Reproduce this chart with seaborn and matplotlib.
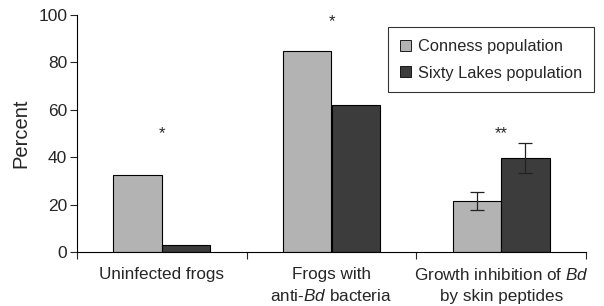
import matplotlib
matplotlib.use("Agg")
import matplotlib.pyplot as plt
import seaborn as sns
import pandas as pd
import numpy as np
from matplotlib.patches import Patch

categories = ["Uninfected frogs", "Frogs with\nanti-$\\it{Bd}$ bacteria",
              "Growth inhibition of $\\it{Bd}$\nby skin peptides"]
populations = ["Conness population", "Sixty Lakes population"]
conness = [32.6, 85.0, 21.6]
sixty = [3.1, 62.0, 39.7]
conness_err = [0, 0, 3.8]
sixty_err = [0, 0, 6.5]
stars = ["*", "*", "**"]
star_y = [50, 97, 50]

sns.set_theme(style="ticks")
plt.rcParams["font.family"] = ["Liberation Sans", "DejaVu Sans"]
plt.rcParams["mathtext.fontset"] = "custom"
plt.rcParams["mathtext.rm"] = "Liberation Sans"
plt.rcParams["mathtext.it"] = "Liberation Sans:italic"

df = pd.DataFrame({
    "category": categories * 2,
    "population": [populations[0]] * 3 + [populations[1]] * 3,
    "value": conness + sixty,
})

fig = plt.figure(figsize=(6.04, 3.06), dpi=100)
ax = fig.add_axes([77/604, 1-252/306, (586-77)/604, (252-15)/306])
palette = {populations[0]: "#b3b3b3", populations[1]: "#3c3c3c"}
sns.barplot(data=df, x="category", y="value", hue="population", palette=palette,
            width=0.57, edgecolor="black", linewidth=0.8, ax=ax, legend=False,
            saturation=1, errorbar=None)

errs = conness_err + sixty_err
for p, e in zip(ax.patches[:6], errs):
    if e > 0:
        cx = p.get_x() + p.get_width() / 2
        ax.errorbar(cx, p.get_height(), yerr=e, color="#222222", capsize=5,
                    elinewidth=0.9, capthick=0.9, fmt="none")

for i, (s, yy) in enumerate(zip(stars, star_y)):
    ax.text(i, yy, s, ha="center", va="center", fontsize=12)

ax.set_xlim(-0.5, 2.5)
ax.set_ylim(0, 100)
ax.set_yticks(range(0, 101, 20))
ax.set_xticks([-0.5, 0.5, 1.5, 2.5])
ax.set_xticklabels([])
ax.set_xticks([0, 1, 2], minor=True)
ax.set_xticklabels(categories, minor=True, fontsize=12.3, linespacing=1.45)
ax.tick_params(axis="x", which="minor", length=0, pad=11)
ax.tick_params(axis="x", which="major", length=5, width=0.8, direction="out")
ax.tick_params(axis="y", length=5, width=0.8, labelsize=12.5, pad=2, direction="out")
ax.set_xlabel("")
ax.set_ylabel("Percent", fontsize=14.5, labelpad=6)
for sp in ["top", "right"]:
    ax.spines[sp].set_visible(False)
for sp in ["left", "bottom"]:
    ax.spines[sp].set_linewidth(0.8)
    ax.spines[sp].set_color("black")

handles = [Patch(facecolor=palette[p], edgecolor="black", linewidth=0.6, label=p)
           for p in populations]
leg = ax.legend(handles=handles, loc="upper right",
                bbox_to_anchor=(594/604, 1-27/306), bbox_transform=fig.transFigure,
                fontsize=11.8, frameon=True, fancybox=False, handlelength=0.65,
                handleheight=0.65, handletextpad=0.45, borderpad=0.72, labelspacing=0.72,
                borderaxespad=0)
leg.get_frame().set_edgecolor("black")
leg.get_frame().set_linewidth(0.8)

fig.savefig("out.png", dpi=100)
